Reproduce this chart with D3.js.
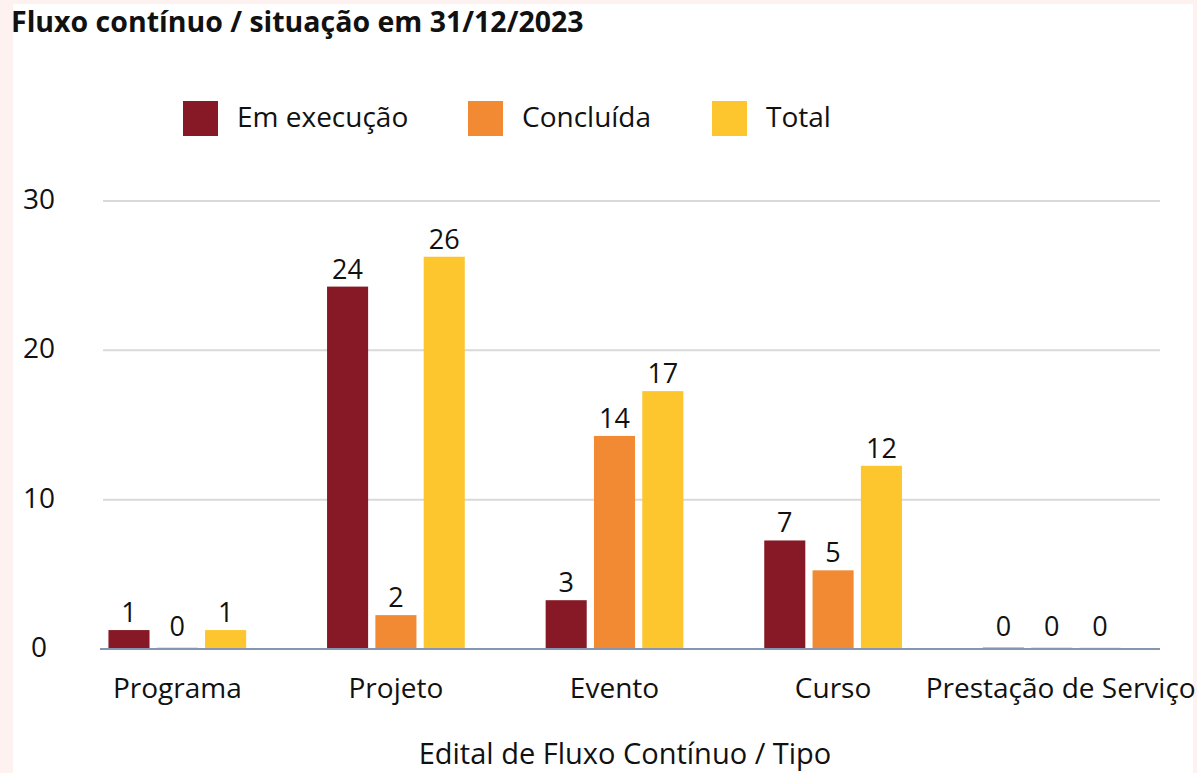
<!DOCTYPE html>
<html>
<head>
<meta charset="utf-8">
<script src="https://cdn.jsdelivr.net/npm/d3@7"></script>
<style>
  html, body { margin: 0; padding: 0; background: #fdf2ef; }
  svg { display: block; }
  text { font-family: "Open Sans", "Noto Sans", sans-serif; fill: #111; }
</style>
</head>
<body>
<div class="container-chart"></div>
<script>
// data
const categories = ["Programa", "Projeto", "Evento", "Curso", "Prestação de Serviço"];
const seriesNames = ["Em execução", "Concluída", "Total"];
const emExecucao = [1, 24, 3, 7, 0];
const concluida = [0, 2, 14, 5, 0];
const total = [1, 26, 17, 12, 0];
const yTicks = [0, 10, 20, 30];
const colors = ["#861925", "#f28a33", "#fdc52e"];

const width = 1197, height = 773;

const svg = d3.select(".container-chart")
    .append("svg")
    .attr("width", width)
    .attr("height", height);

// white panel over pink page
svg.append("rect")
    .attr("x", 13).attr("y", 4)
    .attr("width", 1180).attr("height", height - 4)
    .attr("fill", "#ffffff");

svg.append("text")
    .attr("x", 11).attr("y", 32)
    .style("font-size", "28.5px")
    .style("font-weight", "bold")
    .text("Fluxo contínuo / situação em 31/12/2023");

const rows = categories.map((c, i) => ({
    cat: c,
    vals: [emExecucao[i], concluida[i], total[i]]
}));

const y = d3.scaleLinear().domain([0, 30]).range([649, 201]);

const x0 = d3.scaleBand()
    .domain(categories)
    .range([68, 1161])
    .paddingInner(0.37)
    .paddingOuter(0.185);

const x1 = d3.scaleBand()
    .domain(seriesNames)
    .range([0, x0.bandwidth()])
    .paddingInner(0.15);

// gridlines
svg.append("g").selectAll("line")
    .data(yTicks.filter(d => d > 0))
    .join("line")
    .attr("x1", 103).attr("x2", 1160)
    .attr("y1", d => y(d)).attr("y2", d => y(d))
    .attr("stroke", "#d9d9d9")
    .attr("stroke-width", 2);

// y tick labels
svg.append("g").selectAll("text")
    .data(yTicks)
    .join("text")
    .attr("x", 39)
    .attr("y", d => y(d) - 3)
    .attr("text-anchor", "middle")
    .attr("dominant-baseline", "central")
    .style("font-size", "28px")
    .text(d => d);

// bars
const groups = svg.append("g").selectAll("g")
    .data(rows)
    .join("g")
    .attr("transform", d => `translate(${x0(d.cat)},0)`);

groups.selectAll("rect")
    .data(d => d.vals.map((v, k) => ({ v: v, k: k })))
    .join("rect")
    .attr("x", d => x1(seriesNames[d.k]))
    .attr("width", x1.bandwidth())
    .attr("y", d => d.v > 0 ? y(d.v) - 4 : y(0) - 2)
    .attr("height", d => d.v > 0 ? y(0) - y(d.v) + 4 : 2)
    .attr("fill", d => colors[d.k])
    .attr("fill-opacity", d => d.v > 0 ? 1 : 0.3);

groups.selectAll("text")
    .data(d => d.vals.map((v, k) => ({ v: v, k: k })))
    .join("text")
    .attr("x", d => x1(seriesNames[d.k]) + x1.bandwidth() / 2)
    .attr("y", d => y(d.v) - (d.v > 0 ? 12 : 13))
    .attr("text-anchor", "middle")
    .style("font-size", "27px")
    .text(d => d.v);

// baseline
svg.append("line")
    .attr("x1", 100).attr("x2", 1160)
    .attr("y1", y(0)).attr("y2", y(0))
    .attr("stroke", "#8496b0")
    .attr("stroke-width", 2);

// category labels (last one nudged right, kept inside the page)
svg.append("g").selectAll("text")
    .data(categories)
    .join("text")
    .attr("x", (d, i) => x0(d) + x0.bandwidth() / 2 + (i === categories.length - 1 ? 9 : 0))
    .attr("y", 687)
    .attr("text-anchor", "middle")
    .attr("dominant-baseline", "central")
    .style("font-size", "28px")
    .text(d => d);

svg.append("text")
    .attr("x", 625).attr("y", 752)
    .attr("text-anchor", "middle")
    .attr("dominant-baseline", "central")
    .style("font-size", "29px")
    .text("Edital de Fluxo Contínuo / Tipo");

// legend
const legendX = [183, 468, 712];
const legend = svg.append("g").selectAll("g")
    .data(seriesNames)
    .join("g")
    .attr("transform", (d, i) => `translate(${legendX[i]},101)`);

legend.append("rect")
    .attr("width", 35).attr("height", 35)
    .attr("fill", (d, i) => colors[i]);

legend.append("text")
    .attr("x", 54).attr("y", 15)
    .attr("dominant-baseline", "central")
    .style("font-size", "28px")
    .text(d => d);
</script>
</body>
</html>
